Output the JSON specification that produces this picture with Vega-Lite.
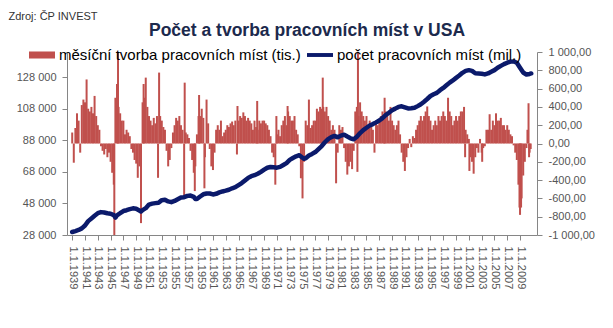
{
"$schema": "https://vega.github.io/schema/vega-lite/v6.json",
"width": 470, "height": 183,
"autosize": {"type": "none"},
"padding": {"left": 67, "top": 52, "right": 76, "bottom": 93},
"background": "white",
"config": {"view": {"stroke": null}, "font": "Liberation Sans"},
"title": {"text": "Počet a tvorba pracovních míst v USA", "anchor": "start", "frame": "group", "dx": 82, "dy": 29, "fontSize": 17.5, "fontWeight": "bold", "color": "#1c2a4d", "font": "Liberation Sans", "offset": 0},
"datasets": {
"jobs": [
{"d":"1939-01","j":120},{"d":"1939-04","j":-210},{"d":"1939-07","j":170},{"d":"1939-10","j":330},
{"d":"1940-01","j":250},{"d":"1940-04","j":-100},{"d":"1940-07","j":420},{"d":"1940-10","j":480},
{"d":"1941-01","j":450},{"d":"1941-04","j":700},{"d":"1941-07","j":380},{"d":"1941-10","j":350},
{"d":"1942-01","j":400},{"d":"1942-04","j":330},{"d":"1942-07","j":520},{"d":"1942-10","j":300},
{"d":"1943-01","j":200},{"d":"1943-04","j":150},{"d":"1943-07","j":-30},{"d":"1943-10","j":-80},
{"d":"1944-01","j":-120},{"d":"1944-04","j":-60},{"d":"1944-07","j":-150},{"d":"1944-10","j":-100},
{"d":"1945-01","j":-200},{"d":"1945-04","j":-320},{"d":"1945-07","j":-450},{"d":"1945-08","j":-1100},{"d":"1945-10","j":500},
{"d":"1946-01","j":650},{"d":"1946-03","j":1100},{"d":"1946-04","j":400},{"d":"1946-07","j":330},{"d":"1946-10","j":250},
{"d":"1947-01","j":250},{"d":"1947-04","j":100},{"d":"1947-07","j":150},{"d":"1947-10","j":120},
{"d":"1948-01","j":80},{"d":"1948-04","j":-60},{"d":"1948-07","j":-100},{"d":"1948-10","j":-180},
{"d":"1949-01","j":-220},{"d":"1949-04","j":-375},{"d":"1949-07","j":-250},{"d":"1949-10","j":-870},
{"d":"1950-01","j":450},{"d":"1950-03","j":650},{"d":"1950-04","j":500},{"d":"1950-07","j":720},{"d":"1950-10","j":400},
{"d":"1951-01","j":300},{"d":"1951-04","j":250},{"d":"1951-07","j":200},{"d":"1951-10","j":280},
{"d":"1952-01","j":220},{"d":"1952-04","j":300},{"d":"1952-06","j":-375},{"d":"1952-08","j":775},{"d":"1952-10","j":300},
{"d":"1953-01","j":250},{"d":"1953-04","j":180},{"d":"1953-07","j":150},{"d":"1953-10","j":-80},
{"d":"1954-01","j":-250},{"d":"1954-04","j":-180},{"d":"1954-07","j":-50},{"d":"1954-10","j":120},
{"d":"1955-01","j":200},{"d":"1955-04","j":280},{"d":"1955-07","j":250},{"d":"1955-10","j":300},
{"d":"1956-01","j":200},{"d":"1956-04","j":150},{"d":"1956-07","j":-580},{"d":"1956-08","j":665},{"d":"1956-10","j":120},
{"d":"1957-01","j":100},{"d":"1957-04","j":60},{"d":"1957-07","j":-80},{"d":"1957-10","j":-180},
{"d":"1958-01","j":-320},{"d":"1958-03","j":-520},{"d":"1958-04","j":-250},{"d":"1958-07","j":100},{"d":"1958-10","j":300},{"d":"1958-11","j":530},
{"d":"1959-01","j":300},{"d":"1959-04","j":380},{"d":"1959-07","j":280},{"d":"1959-09","j":-490},{"d":"1959-10","j":-150},
{"d":"1960-01","j":480},{"d":"1960-04","j":220},{"d":"1960-07","j":-60},{"d":"1960-10","j":-250},
{"d":"1961-01","j":-290},{"d":"1961-04","j":-100},{"d":"1961-07","j":150},{"d":"1961-10","j":200},
{"d":"1962-01","j":150},{"d":"1962-04","j":250},{"d":"1962-07","j":80},{"d":"1962-10","j":120},
{"d":"1963-01","j":150},{"d":"1963-04","j":200},{"d":"1963-07","j":180},{"d":"1963-10","j":220},
{"d":"1964-01","j":240},{"d":"1964-04","j":200},{"d":"1964-07","j":250},{"d":"1964-10","j":-120},{"d":"1964-11","j":410},
{"d":"1965-01","j":250},{"d":"1965-04","j":300},{"d":"1965-07","j":280},{"d":"1965-10","j":340},
{"d":"1966-01","j":300},{"d":"1966-04","j":250},{"d":"1966-07","j":280},{"d":"1966-10","j":250},
{"d":"1967-01","j":220},{"d":"1967-04","j":150},{"d":"1967-07","j":250},{"d":"1967-10","j":180},{"d":"1967-12","j":465},
{"d":"1968-01","j":150},{"d":"1968-04","j":250},{"d":"1968-07","j":220},{"d":"1968-10","j":250},
{"d":"1969-01","j":250},{"d":"1969-04","j":220},{"d":"1969-07","j":200},{"d":"1969-10","j":150},
{"d":"1970-01","j":80},{"d":"1970-04","j":-100},{"d":"1970-07","j":-150},{"d":"1970-10","j":-450},{"d":"1970-12","j":300},
{"d":"1971-01","j":100},{"d":"1971-04","j":150},{"d":"1971-07","j":80},{"d":"1971-10","j":200},
{"d":"1972-01","j":250},{"d":"1972-04","j":300},{"d":"1972-07","j":200},{"d":"1972-09","j":410},{"d":"1972-10","j":350},
{"d":"1973-01","j":300},{"d":"1973-04","j":250},{"d":"1973-07","j":250},{"d":"1973-10","j":300},
{"d":"1974-01","j":150},{"d":"1974-04","j":100},{"d":"1974-07","j":-30},{"d":"1974-10","j":-380},
{"d":"1975-01","j":-600},{"d":"1975-04","j":-200},{"d":"1975-07","j":250},{"d":"1975-10","j":200},
{"d":"1976-01","j":480},{"d":"1976-04","j":170},{"d":"1976-07","j":200},{"d":"1976-10","j":250},
{"d":"1977-01","j":250},{"d":"1977-04","j":380},{"d":"1977-07","j":350},{"d":"1977-10","j":400},
{"d":"1978-01","j":380},{"d":"1978-03","j":720},{"d":"1978-04","j":400},{"d":"1978-07","j":350},{"d":"1978-10","j":400},
{"d":"1979-01","j":300},{"d":"1979-04","j":250},{"d":"1979-07","j":150},{"d":"1979-10","j":200},
{"d":"1980-01","j":150},{"d":"1980-04","j":-435},{"d":"1980-07","j":-100},{"d":"1980-10","j":200},
{"d":"1981-01","j":150},{"d":"1981-04","j":180},{"d":"1981-07","j":-50},{"d":"1981-10","j":-200},
{"d":"1982-01","j":-340},{"d":"1982-04","j":-250},{"d":"1982-07","j":-200},{"d":"1982-10","j":-280},
{"d":"1983-01","j":-80},{"d":"1983-04","j":350},{"d":"1983-07","j":400},{"d":"1983-08","j":-310},{"d":"1983-09","j":1100},{"d":"1983-10","j":300},
{"d":"1984-01","j":450},{"d":"1984-04","j":350},{"d":"1984-07","j":300},{"d":"1984-10","j":250},
{"d":"1985-01","j":300},{"d":"1985-04","j":200},{"d":"1985-07","j":250},{"d":"1985-10","j":200},
{"d":"1986-01","j":150},{"d":"1986-04","j":-100},{"d":"1986-07","j":250},{"d":"1986-10","j":200},
{"d":"1987-01","j":250},{"d":"1987-04","j":300},{"d":"1987-07","j":350},{"d":"1987-10","j":300},{"d":"1987-11","j":500},
{"d":"1988-01","j":350},{"d":"1988-04","j":300},{"d":"1988-07","j":250},{"d":"1988-10","j":400},
{"d":"1989-01","j":250},{"d":"1989-04","j":200},{"d":"1989-07","j":150},{"d":"1989-10","j":200},
{"d":"1990-01","j":250},{"d":"1990-04","j":100},{"d":"1990-07","j":-100},{"d":"1990-10","j":-200},
{"d":"1991-01","j":-300},{"d":"1991-04","j":-150},{"d":"1991-07","j":-50},{"d":"1991-10","j":50},
{"d":"1992-01","j":-40},{"d":"1992-04","j":80},{"d":"1992-07","j":60},{"d":"1992-10","j":150},
{"d":"1993-01","j":200},{"d":"1993-04","j":250},{"d":"1993-07","j":300},{"d":"1993-10","j":250},
{"d":"1994-01","j":300},{"d":"1994-04","j":350},{"d":"1994-07","j":405},{"d":"1994-10","j":300},
{"d":"1995-01","j":250},{"d":"1995-04","j":150},{"d":"1995-07","j":200},{"d":"1995-10","j":250},
{"d":"1996-01","j":200},{"d":"1996-04","j":300},{"d":"1996-07","j":250},{"d":"1996-10","j":300},
{"d":"1997-01","j":350},{"d":"1997-04","j":300},{"d":"1997-07","j":250},{"d":"1997-10","j":500},
{"d":"1998-01","j":350},{"d":"1998-04","j":300},{"d":"1998-07","j":200},{"d":"1998-10","j":250},
{"d":"1999-01","j":300},{"d":"1999-04","j":250},{"d":"1999-07","j":300},{"d":"1999-10","j":350},
{"d":"2000-01","j":350},{"d":"2000-04","j":400},{"d":"2000-06","j":-150},{"d":"2000-07","j":150},{"d":"2000-10","j":100},
{"d":"2001-01","j":50},{"d":"2001-02","j":-300},{"d":"2001-04","j":-150},{"d":"2001-07","j":-200},{"d":"2001-10","j":-330},
{"d":"2002-01","j":-150},{"d":"2002-04","j":-50},{"d":"2002-07","j":-100},{"d":"2002-10","j":50},
{"d":"2003-01","j":-100},{"d":"2003-02","j":-200},{"d":"2003-04","j":-50},{"d":"2003-07","j":-30},{"d":"2003-10","j":150},
{"d":"2004-01","j":150},{"d":"2004-04","j":320},{"d":"2004-07","j":150},{"d":"2004-10","j":250},
{"d":"2005-01","j":200},{"d":"2005-04","j":330},{"d":"2005-07","j":250},{"d":"2005-10","j":250},
{"d":"2006-01","j":280},{"d":"2006-04","j":200},{"d":"2006-07","j":200},{"d":"2006-10","j":150},
{"d":"2007-01","j":200},{"d":"2007-04","j":150},{"d":"2007-07","j":100},{"d":"2007-10","j":80},
{"d":"2008-01","j":-20},{"d":"2008-04","j":-100},{"d":"2008-07","j":-180},{"d":"2008-10","j":-450},{"d":"2008-12","j":-700},
{"d":"2009-01","j":-780},{"d":"2009-03","j":-700},{"d":"2009-04","j":-600},{"d":"2009-07","j":-350},{"d":"2009-10","j":-200},
{"d":"2010-01","j":-50},{"d":"2010-03","j":150},{"d":"2010-05","j":440},{"d":"2010-06","j":-150},{"d":"2010-07","j":-100},{"d":"2010-09","j":-60}
],
"emp": [
{"d":"1939-01","e":29900},{"d":"1939-07","e":30500},{"d":"1940-01","e":31200},{"d":"1940-07","e":32200},
{"d":"1941-01","e":34000},{"d":"1941-07","e":36800},{"d":"1942-01","e":38500},{"d":"1942-07","e":40200},
{"d":"1943-01","e":41800},{"d":"1943-07","e":42500},{"d":"1944-01","e":42300},{"d":"1944-07","e":41800},
{"d":"1945-01","e":41500},{"d":"1945-07","e":40600},{"d":"1945-10","e":39000},{"d":"1946-01","e":40500},{"d":"1946-07","e":41800},
{"d":"1947-01","e":43200},{"d":"1947-07","e":43700},{"d":"1948-01","e":44400},{"d":"1948-07","e":44900},
{"d":"1949-01","e":44600},{"d":"1949-07","e":43500},{"d":"1949-10","e":42900},{"d":"1950-01","e":43800},{"d":"1950-07","e":45000},
{"d":"1951-01","e":47300},{"d":"1951-07","e":47900},{"d":"1952-01","e":48200},{"d":"1952-07","e":48500},
{"d":"1953-01","e":50100},{"d":"1953-07","e":50400},{"d":"1954-01","e":49300},{"d":"1954-07","e":48800},
{"d":"1955-01","e":49600},{"d":"1955-07","e":50700},{"d":"1956-01","e":51800},{"d":"1956-07","e":52000},
{"d":"1957-01","e":52800},{"d":"1957-07","e":53000},{"d":"1958-01","e":52200},{"d":"1958-04","e":50800},{"d":"1958-07","e":50800},
{"d":"1959-01","e":52400},{"d":"1959-07","e":53800},{"d":"1960-01","e":54300},{"d":"1960-07","e":54300},
{"d":"1961-01","e":53700},{"d":"1961-07","e":54100},{"d":"1962-01","e":55000},{"d":"1962-07","e":55600},
{"d":"1963-01","e":56100},{"d":"1963-07","e":56700},{"d":"1964-01","e":57600},{"d":"1964-07","e":58300},
{"d":"1965-01","e":59600},{"d":"1965-07","e":60900},{"d":"1966-01","e":62600},{"d":"1966-07","e":64200},
{"d":"1967-01","e":65300},{"d":"1967-07","e":65900},{"d":"1968-01","e":66800},{"d":"1968-07","e":68000},
{"d":"1969-01","e":69400},{"d":"1969-07","e":70600},{"d":"1970-01","e":71100},{"d":"1970-07","e":70900},
{"d":"1971-01","e":70700},{"d":"1971-07","e":71200},{"d":"1972-01","e":72400},{"d":"1972-07","e":73600},
{"d":"1973-01","e":75600},{"d":"1973-07","e":76800},{"d":"1974-01","e":77900},{"d":"1974-07","e":78600},
{"d":"1975-01","e":77000},{"d":"1975-04","e":76300},{"d":"1975-07","e":76700},{"d":"1976-01","e":78400},{"d":"1976-07","e":79400},
{"d":"1977-01","e":80600},{"d":"1977-07","e":82500},{"d":"1978-01","e":84400},{"d":"1978-07","e":86800},
{"d":"1979-01","e":88800},{"d":"1979-07","e":90000},{"d":"1980-01","e":90800},{"d":"1980-07","e":89900},
{"d":"1981-01","e":91000},{"d":"1981-07","e":91600},{"d":"1982-01","e":90400},{"d":"1982-07","e":89300},
{"d":"1983-01","e":88700},{"d":"1983-07","e":90300},{"d":"1984-01","e":92600},{"d":"1984-07","e":94500},
{"d":"1985-01","e":96000},{"d":"1985-07","e":97400},{"d":"1986-01","e":98300},{"d":"1986-07","e":99400},
{"d":"1987-01","e":100600},{"d":"1987-07","e":102100},{"d":"1988-01","e":104000},{"d":"1988-07","e":105500},
{"d":"1989-01","e":107100},{"d":"1989-07","e":108100},{"d":"1990-01","e":109200},{"d":"1990-07","e":109600},
{"d":"1991-01","e":108900},{"d":"1991-07","e":108200},{"d":"1992-01","e":108300},{"d":"1992-07","e":108600},
{"d":"1993-01","e":109700},{"d":"1993-07","e":110900},{"d":"1994-01","e":112500},{"d":"1994-07","e":114200},
{"d":"1995-01","e":116100},{"d":"1995-07","e":117200},{"d":"1996-01","e":118100},{"d":"1996-07","e":119800},
{"d":"1997-01","e":121200},{"d":"1997-07","e":122900},{"d":"1998-01","e":124600},{"d":"1998-07","e":126000},
{"d":"1999-01","e":127600},{"d":"1999-07","e":129100},{"d":"2000-01","e":130800},{"d":"2000-07","e":132000},
{"d":"2001-01","e":132500},{"d":"2001-07","e":132000},{"d":"2002-01","e":130500},{"d":"2002-07","e":130400},
{"d":"2003-01","e":130200},{"d":"2003-07","e":129800},{"d":"2004-01","e":130400},{"d":"2004-07","e":131500},
{"d":"2005-01","e":132500},{"d":"2005-07","e":134000},{"d":"2006-01","e":135200},{"d":"2006-07","e":136300},
{"d":"2007-01","e":137200},{"d":"2007-07","e":137900},{"d":"2008-01","e":138000},{"d":"2008-07","e":137200},
{"d":"2009-01","e":134000},{"d":"2009-07","e":131000},{"d":"2010-01","e":129700},{"d":"2010-07","e":130100},{"d":"2010-10","e":130400}
]
},
"encoding": {
"x": {"field": "d", "type": "temporal",
 "scale": {"type": "utc", "domain": [{"year": 1938, "month": 12, "date": 20, "utc": true}, {"year": 2010, "month": 11, "date": 15, "utc": true}]},
 "axis": {"title": null, "grid": false, "labelAngle": 90, "labelFontSize": 11, "labelColor": "#555555", "labelPadding": 6,
  "domainColor": "#868686", "tickColor": "#868686", "tickSize": 5, "labelOverlap": false, "labelBound": false, "labelFlush": false,
  "values": [{"year":1939,"utc":true},{"year":1941,"utc":true},{"year":1943,"utc":true},{"year":1945,"utc":true},{"year":1947,"utc":true},{"year":1949,"utc":true},{"year":1951,"utc":true},{"year":1953,"utc":true},{"year":1955,"utc":true},{"year":1957,"utc":true},{"year":1959,"utc":true},{"year":1961,"utc":true},{"year":1963,"utc":true},{"year":1965,"utc":true},{"year":1967,"utc":true},{"year":1969,"utc":true},{"year":1971,"utc":true},{"year":1973,"utc":true},{"year":1975,"utc":true},{"year":1977,"utc":true},{"year":1979,"utc":true},{"year":1981,"utc":true},{"year":1983,"utc":true},{"year":1985,"utc":true},{"year":1987,"utc":true},{"year":1989,"utc":true},{"year":1991,"utc":true},{"year":1993,"utc":true},{"year":1995,"utc":true},{"year":1997,"utc":true},{"year":1999,"utc":true},{"year":2001,"utc":true},{"year":2003,"utc":true},{"year":2005,"utc":true},{"year":2007,"utc":true},{"year":2009,"utc":true}],
  "labelExpr": "'1.1.' + utcFormat(datum.value, '%Y')"}}
},
"layer": [
{
"data": {"name": "jobs"},
"mark": {"type": "bar", "size": 2, "clip": true},
"encoding": {
"y": {"field": "j", "type": "quantitative", "stack": null,
 "scale": {"domain": [-1000, 1000], "nice": false},
 "axis": {"orient": "right", "title": null, "grid": false, "values": [-1000,-800,-600,-400,-200,0,200,400,600,800,1000],
  "labelExpr": "replace(replace(replace(format(datum.value, ',.2f'), ',', ' '), '.', ','), '−', '-')",
  "labelFontSize": 11, "labelColor": "#555555", "labelPadding": 6, "domainColor": "#868686", "tickColor": "#868686", "tickSize": 5}},
"color": {"datum": "měsíční tvorba pracovních míst (tis.)",
 "scale": {"domain": ["měsíční tvorba pracovních míst (tis.)", "počet pracovních míst (mil.)"], "range": ["#c0504d", "#0b1a6b"]},
 "legend": {"orient": "none", "legendX": -38, "legendY": -10, "direction": "horizontal", "title": null,
  "labelFontSize": 15, "labelColor": "#000000", "labelLimit": 400, "labelOffset": 4, "columnPadding": 6,
  "symbolSize": 676, "symbolStrokeWidth": 0,
  "encode": {"symbols": {"update": {"shape": {"signal": "datum.value == 'měsíční tvorba pracovních míst (tis.)' ? 'M-1,-0.27H1V0.27H-1Z' : 'M-1,-0.15H1V0.15H-1Z'"}, "fill": {"scale": "color", "field": "value"}, "strokeWidth": {"value": 0}}}}}}
}
},
{
"data": {"name": "emp"},
"mark": {"type": "line", "strokeWidth": 4.5, "strokeCap": "round", "strokeJoin": "round"},
"encoding": {
"y": {"field": "e", "type": "quantitative",
 "scale": {"domain": [28000, 144000], "nice": false, "zero": false},
 "axis": {"orient": "left", "grid": false, "values": [28000,48000,68000,88000,108000,128000],
  "labelExpr": "replace(format(datum.value, ',d'), ',', ' ')",
  "labelFontSize": 11, "labelColor": "#555555", "labelPadding": 6, "domainColor": "#868686", "tickColor": "#868686", "tickSize": 5,
  "title": "Zdroj: ČP INVEST", "titleAngle": 0, "titleX": -59, "titleY": -36, "titleAlign": "left", "titleBaseline": "middle",
  "titleFontSize": 11, "titleFontWeight": "normal", "titleColor": "#333333"}},
"color": {"datum": "počet pracovních míst (mil.)"}
}
}
],
"resolve": {"scale": {"y": "independent"}}
}
